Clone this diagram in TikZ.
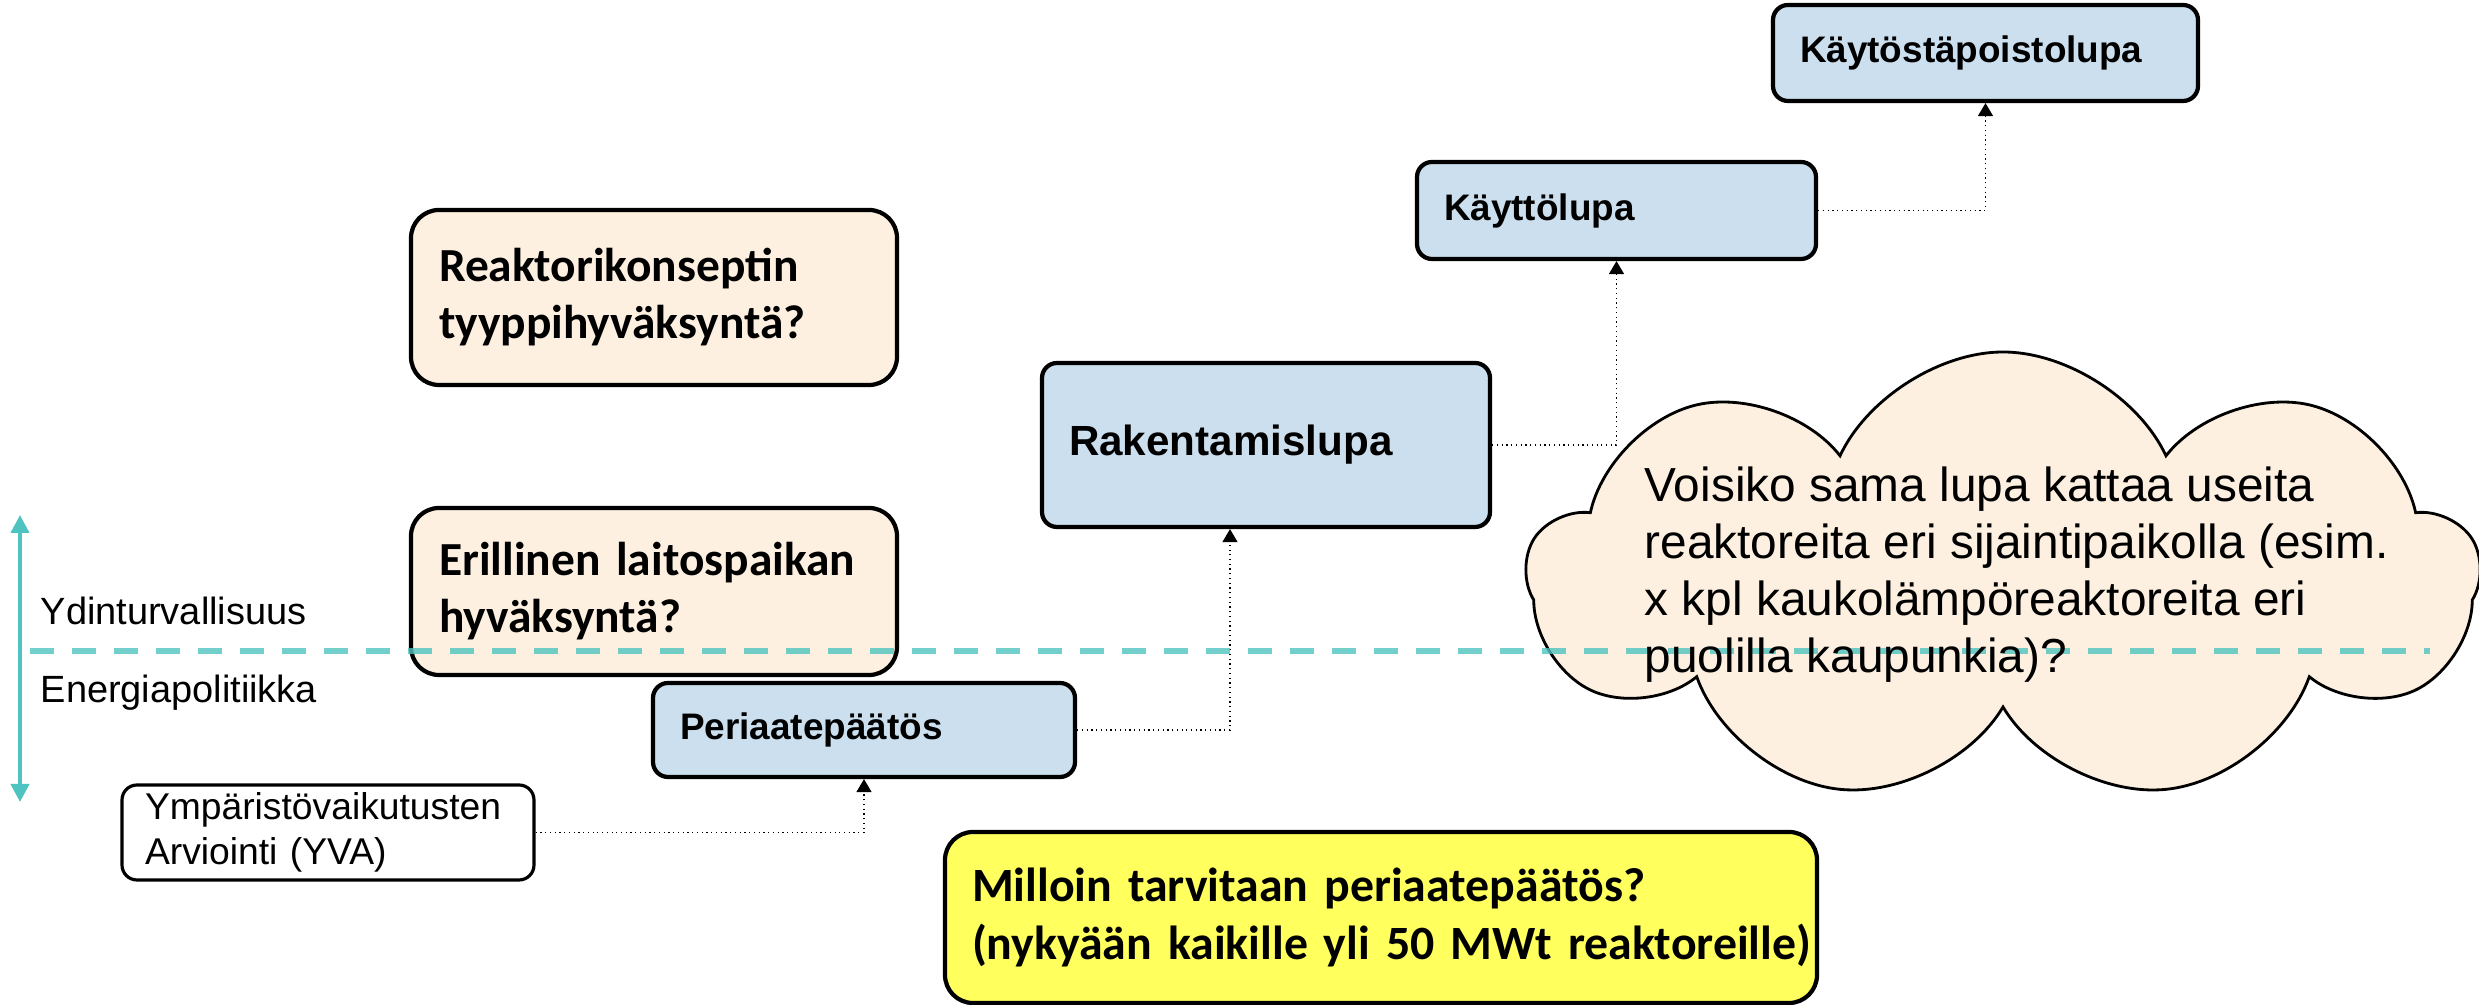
\documentclass[tikz,border=0pt]{standalone}
\usepackage{fontspec}
\setmainfont{Liberation Sans}
\newfontfamily\calibfont{Carlito}
\usetikzlibrary{arrows.meta,shapes.symbols}

\definecolor{permitblue}{HTML}{CCDFEE}
\definecolor{questbeige}{HTML}{FDF0E1}
\definecolor{noteyellow}{HTML}{FFFF5D}
\definecolor{bandteal}{HTML}{4FC3BF}

\tikzset{
	permit/.style={rectangle, rounded corners=0.15cm, draw=black, line width=1.2pt, fill=permitblue, align=left, inner xsep=0.27cm, inner ysep=0pt, font=\bfseries\fontsize{10.5}{12.6}\selectfont},
	question/.style={rectangle, rounded corners=0.28cm, draw=black, line width=1.2pt, fill=questbeige, align=left, inner xsep=0.28cm, inner ysep=0pt, font=\calibfont\bfseries\fontsize{13.5}{16.2}\selectfont},
	flow/.style={densely dotted, line width=0.35pt, -{Triangle[length=0.13cm, width=0.15cm]}},
	layer/.style={font=\fontsize{10.8}{13}\selectfont, anchor=base west, inner sep=0pt},
}

\begin{document}
\begin{tikzpicture}
		\useasboundingbox (0, 0) rectangle (24.79, 10.05);
		\node[question, text width=4.30cm, minimum height=1.75cm] (typeapproval) at (6.54, 7.075) {Reaktorikonseptin\\tyyppihyväksyntä?};
		\node[question, text width=4.30cm, minimum height=1.67cm] (siteapproval) at (6.54, 4.135) {Erillinen laitospaikan\\hyväksyntä?};
		\node[permit, text width=3.68cm, minimum height=0.94cm] (decision) at (8.64, 2.75) {Periaatepäätös};
		\node[permit, text width=3.94cm, minimum height=1.64cm, font=\bfseries\fontsize{12}{14}\selectfont] (buildpermit) at (12.66, 5.60) {Rakentamislupa};
		\node[permit, text width=3.45cm, minimum height=0.97cm] (oppermit) at (16.165, 7.945) {Käyttölupa};
		\node[permit, text width=3.71cm, minimum height=0.96cm] (decompermit) at (19.855, 9.52) {Käytöstäpoistolupa};
		\node[rectangle, rounded corners=0.15cm, draw=black, line width=0.9pt, fill=white, align=left, inner xsep=0.23cm, inner ysep=0pt, text width=3.66cm, minimum height=0.95cm, font=\fontsize{10.6}{12.7}\selectfont] (yva) at (3.28, 1.725) {Ympäristövaikutusten\\Arviointi (YVA)};
		\node[question, fill=noteyellow, text width=8.18cm, inner xsep=0.27cm, minimum height=1.71cm, font=\calibfont\bfseries\fontsize{13.6}{16.5}\selectfont] (whendecision) at (13.81, 0.875) {\mbox{Milloin tarvitaan periaatepäätös?}\\\mbox{(nykyään kaikille yli 50 MWt reaktoreille)}};
		\node[cloud, cloud puffs=9, cloud puff arc=130, cloud ignores aspect, draw=black, line width=0.8pt, fill=questbeige, minimum width=9.52cm, minimum height=4.51cm, inner sep=0pt] (multisite) at (20.03, 4.275) {};
		\draw[flow] (yva.east) -| (decision.south);
		\draw[flow] (decision.east) -| ([xshift=-0.36cm]buildpermit.south);
		\draw[flow] (buildpermit.east) -| (oppermit.south);
		\draw[flow] (oppermit.east) -| (decompermit.south);
		\coordinate (bandtop) at (0.20, 4.90);
		\coordinate (bandbottom) at (0.20, 2.03);
		\coordinate (bandleft) at (0.30, 3.54);
		\coordinate (bandright) at (24.30, 3.54);
		\draw[bandteal, line width=1.15pt, {Triangle[length=0.18cm, width=0.18cm]}-{Triangle[length=0.18cm, width=0.18cm]}] (bandtop) -- (bandbottom);
		\draw[bandteal, line width=1.7pt, dash pattern=on 0.24cm off 0.18cm, opacity=0.8] (bandleft) -- (bandright);
		\node[align=left, anchor=base west, inner sep=0pt, font=\fontsize{13.6}{16.3}\selectfont] (multisitetext) at (16.44, 3.32) {Voisiko sama lupa kattaa useita\\reaktoreita eri sijaintipaikolla (esim.\\x kpl kaukolämpöreaktoreita eri\\puolilla kaupunkia)?};
		\node[layer] (safety) at (0.40, 3.80) {Ydinturvallisuus};
		\node[layer] (energy) at (0.40, 3.02) {Energiapolitiikka};
	\end{tikzpicture}
\end{document}
